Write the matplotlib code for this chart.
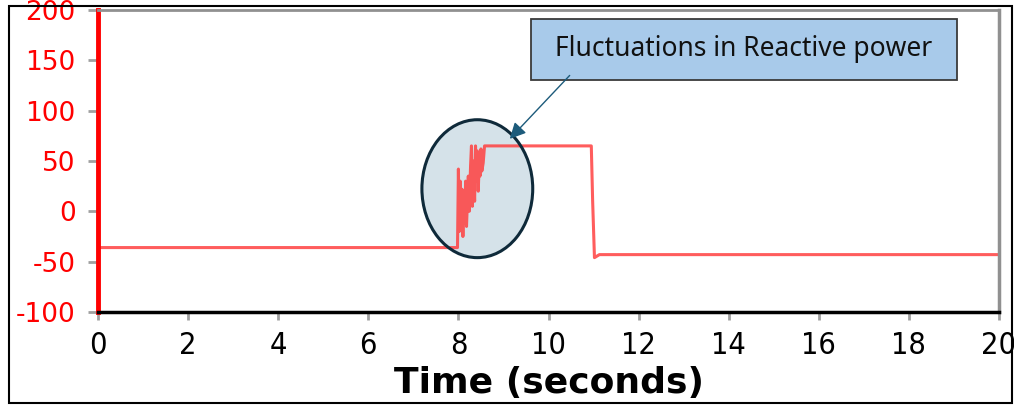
import matplotlib.pyplot as plt
from matplotlib.patches import Ellipse, Rectangle

plt.rcParams['axes.unicode_minus'] = False

# reactive power trace (time in s, value)
time_s = [0, 7.98, 8.0, 8.02, 8.04, 8.06, 8.08, 8.10, 8.12, 8.14, 8.16, 8.18, 8.20,
          8.22, 8.24, 8.27, 8.29, 8.31, 8.33, 8.36, 8.38, 8.40, 8.42, 8.44, 8.46,
          8.48, 8.50, 8.52, 8.55, 8.58, 10.95, 10.98, 11.02, 11.13, 20]
q_var = [-36, -36, 42, -20, 30, -18, 22, -25, 18, -12, 30, -15, 10,
         35, 0, 45, 65, 5, 50, 10, 65, 30, 60, 20, 45,
         35, 62, 40, 48, 65, 65, 10, -46, -43, -43]

xticks = list(range(0, 21, 2))
yticks = list(range(-100, 201, 50))

W, H = 1014, 405
fig = plt.figure(figsize=(W / 100, H / 100), dpi=100)
ax = fig.add_axes([98 / W, 1 - 312 / H, (999 - 98) / W, (312 - 10) / H])

# highlight ellipse: fill under the trace, outline above it
ax.add_patch(Ellipse((8.42, 22.5), 2.46, 137, facecolor='#d5e2e9',
                     edgecolor='none', zorder=1.5))
ax.plot(time_s, q_var, color='#ff4040', lw=2.2, alpha=0.85, zorder=2)
ax.add_patch(Ellipse((8.42, 22.5), 2.46, 137, fill=False,
                     edgecolor='#0f2a3a', lw=2.2, zorder=3))

# callout box
ax.add_patch(Rectangle((9.62, 130), 9.45, 61, facecolor='#a8caea',
                       edgecolor='#3a3a3a', lw=1.3, zorder=4))
ax.text(14.34, 161, 'Fluctuations in Reactive power', ha='center', va='center',
        fontsize=19, family='Noto Sans', color='#111111', zorder=5)
ax.annotate('', xy=(9.14, 72), xytext=(10.47, 135),
            arrowprops=dict(arrowstyle='-|>', color='#1d5b7b', lw=1.0,
                            mutation_scale=24, shrinkA=0, shrinkB=0), zorder=5)

ax.set_xlim(0, 20)
ax.set_ylim(-100, 200)
ax.set_xticks(xticks)
ax.set_yticks(yticks)
ax.tick_params(axis='y', colors='#a0a0a0', length=7, width=2, labelcolor='red',
               labelsize=19, pad=9)
ax.tick_params(axis='x', colors='#a0a0a0', length=6, width=2, labelcolor='black',
               labelsize=22, pad=8)
for lbl in ax.get_xticklabels():
    lbl.set_family('DejaVu Sans')
    lbl.set_stretch('condensed')

ax.spines['left'].set_color('red')
ax.spines['left'].set_linewidth(3.5)
ax.spines['bottom'].set_color('black')
ax.spines['bottom'].set_linewidth(2.5)
ax.spines['top'].set_color('#909090')
ax.spines['top'].set_linewidth(2)
ax.spines['right'].set_color('#909090')
ax.spines['right'].set_linewidth(2.5)

ax.set_xlabel('Time (seconds)', fontsize=26, fontweight='bold', labelpad=4)

fig.add_artist(Rectangle((9 / W, 1 - 403 / H), (1012 - 9) / W, (403 - 6) / H,
                         transform=fig.transFigure, fill=False, ec='black', lw=1.5))

fig.savefig('out.png', dpi=100)
